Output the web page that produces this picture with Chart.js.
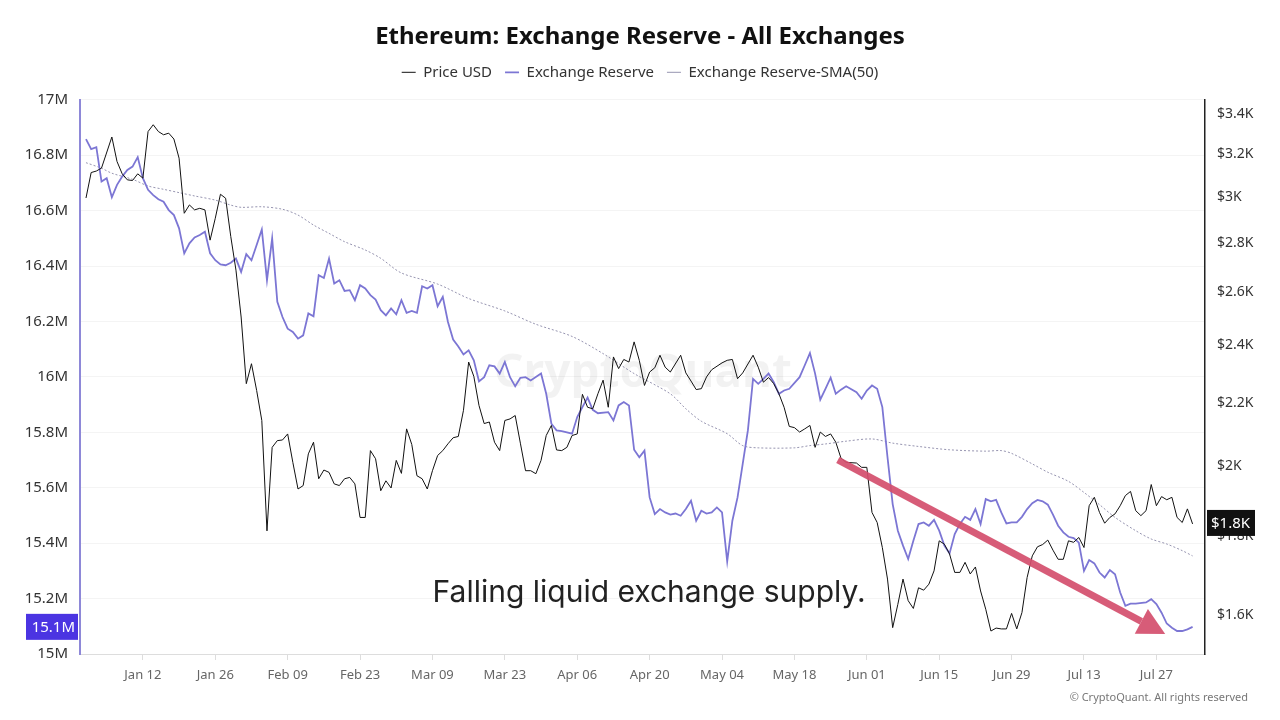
<!DOCTYPE html>
<html><head><meta charset="utf-8">
<script src="https://cdn.jsdelivr.net/npm/chart.js@4.4.1/dist/chart.umd.min.js"></script>
<style>html,body{margin:0;padding:0;background:#fff;}#wrap{width:1280px;height:720px;}</style>
</head><body><div id="wrap"><canvas id="c" width="1280" height="720"></canvas></div>
<script>
// Day offsets counted from Jan 01
const tickDays = [11,25,39,53,67,81,95,109,123,137,151,165,179,193,207];
const tickLabels = ['Jan 12','Jan 26','Feb 09','Feb 23','Mar 09','Mar 23','Apr 06','Apr 20','May 04','May 18','Jun 01','Jun 15','Jun 29','Jul 13','Jul 27'];
const reserveTicks = [15,15.2,15.4,15.6,15.8,16,16.2,16.4,16.6,16.8,17];
const priceTicks = [1600,1800,2000,2200,2400,2600,2800,3000,3200,3400];

const priceDays = [0,1,2,3,5,6,7,8,9,10,11,12,13,14,15,16,17,18,19,20,21,22,23,24,25,26,27,28,29,30,31,32,33,34,35,36,37,38,39,40,41,42,43,44,45,46,47,48,49,50,51,52,53,54,55,56,57,58,59,60,61,62,63,64,65,66,67,68,69,70,71,72,73,74,75,76,77,78,79,80,81,82,83,84,85,86,87,88,89,90,91,92,93,94,95,96,97,98,99,100,101,102,103,104,105,106,107,108,109,110,111,112,113,115,116,117,118,119,120,121,123,124,125,126,127,129,130,131,132,133,134,135,136,137,138,139,140,141,142,143,144,145,146,147,149,150,151,152,153,154,155,156,157,158,159,160,161,162,163,164,165,166,167,168,169,170,171,172,173,174,175,176,177,178,179,180,181,182,183,184,185,186,187,188,189,190,191,192,193,194,195,196,197,198,199,200,201,202,203,204,205,206,207,208,209,210,211,212,213,214];
const priceUSD = [2995,3112,3119,3133,3283,3164,3106,3078,3075,3106,3086,3310,3344,3310,3294,3302,3273,3180,2927,2964,2942,2949,2942,2811,2905,3012,2994,2826,2687,2504,2265,2334,2242,2143,1815,2058,2079,2081,2100,2012,1933,1943,2038,2074,1963,1989,1982,1948,1943,1963,1967,1948,1852,1852,2048,2023,1928,1957,1936,2018,1979,2116,2067,1972,1963,1933,1987,2033,2048,2069,2088,2092,2176,2340,2290,2192,2133,2138,2074,2048,2143,2148,2159,2071,1987,1987,1978,2018,2095,2127,2050,2048,2058,2095,2100,2229,2186,2181,2231,2277,2186,2358,2317,2349,2340,2412,2346,2259,2305,2320,2364,2322,2305,2364,2302,2274,2245,2248,2288,2313,2337,2346,2349,2282,2302,2364,2322,2270,2286,2265,2231,2186,2124,2120,2106,2116,2127,2058,2106,2092,2100,2074,2025,2012,2010,1997,1997,1866,1838,1770,1688,1569,1625,1688,1634,1615,1666,1660,1675,1709,1788,1779,1753,1705,1705,1731,1701,1719,1658,1613,1561,1568,1566,1566,1603,1566,1605,1692,1748,1772,1778,1790,1763,1739,1739,1788,1784,1797,1770,1885,1909,1866,1836,1852,1862,1885,1914,1926,1871,1857,1871,1946,1885,1911,1902,1909,1852,1838,1876,1834];

const reserveDays = [0,1,2,3,4,5,6,7,8,9,10,11,12,13,14,15,16,17,18,19,20,21,22,23,24,25,26,27,28,29,30,31,32,33,34,35,36,37,38,39,40,41,42,43,44,45,46,47,48,49,50,51,52,53,54,55,56,57,58,59,60,61,62,63,64,65,66,67,68,69,70,71,72,73,74,75,76,77,78,79,80,81,82,83,84,85,86,88,89,90,91,92,93,94,95,96,97,98,99,101,102,103,104,105,106,107,108,109,110,111,112,113,114,115,116,117,118,119,120,121,122,123,124,125,126,127,128,129,130,131,132,133,134,135,136,138,139,140,141,142,143,144,145,146,147,149,150,151,152,153,154,155,156,157,158,159,160,161,162,163,164,165,166,167,168,169,170,171,172,173,174,175,176,177,178,179,180,181,182,183,184,185,186,187,188,189,190,191,192,193,194,195,196,197,198,199,200,201,202,203,205,206,207,208,209,210,211,212,213,214];
const exchangeReserveM = [16.858,16.822,16.829,16.705,16.717,16.648,16.693,16.723,16.747,16.759,16.793,16.717,16.675,16.656,16.641,16.632,16.602,16.584,16.536,16.446,16.482,16.503,16.512,16.524,16.446,16.421,16.406,16.403,16.412,16.427,16.379,16.443,16.421,16.476,16.532,16.349,16.500,16.271,16.216,16.174,16.162,16.138,16.150,16.229,16.219,16.367,16.357,16.427,16.337,16.349,16.310,16.313,16.277,16.331,16.319,16.295,16.279,16.241,16.222,16.247,16.226,16.277,16.231,16.238,16.231,16.327,16.319,16.331,16.255,16.289,16.198,16.135,16.110,16.081,16.096,16.060,15.984,15.999,16.042,16.038,16.012,16.054,15.999,15.966,15.997,15.999,15.987,16.012,15.939,15.831,15.807,15.804,15.800,15.795,15.855,15.891,15.925,15.881,15.869,15.873,15.843,15.897,15.909,15.897,15.737,15.710,15.734,15.565,15.505,15.523,15.511,15.503,15.507,15.499,15.523,15.553,15.481,15.517,15.507,15.511,15.529,15.511,15.334,15.481,15.565,15.686,15.807,15.993,15.975,15.993,16.012,15.981,15.939,15.951,15.957,15.999,16.042,16.086,16.012,15.918,15.957,15.997,15.939,15.954,15.966,15.945,15.921,15.951,15.969,15.957,15.891,15.710,15.541,15.445,15.391,15.343,15.409,15.469,15.475,15.463,15.484,15.445,15.391,15.363,15.433,15.469,15.495,15.484,15.523,15.469,15.559,15.551,15.556,15.511,15.471,15.475,15.475,15.495,15.523,15.544,15.556,15.551,15.539,15.503,15.463,15.439,15.423,15.418,15.402,15.300,15.339,15.327,15.294,15.276,15.303,15.288,15.222,15.174,15.182,15.182,15.186,15.198,15.180,15.149,15.110,15.095,15.083,15.083,15.089,15.098];

const smaDays = [0,3,5,9,12,15,18,21,25,28,30,34,38,41,44,47,50,54,57,61,68,74,81,87,94,100,106,113,116,119,124,127,130,137,140,143,147,152,156,161,167,174,177,179,183,186,190,193,196,199,203,206,209,212,214];
const reserveSMA50M = [16.773,16.753,16.735,16.713,16.689,16.677,16.665,16.653,16.638,16.620,16.612,16.614,16.605,16.584,16.548,16.518,16.488,16.458,16.428,16.375,16.335,16.283,16.238,16.190,16.146,16.084,16.012,15.939,15.885,15.840,15.795,15.752,15.744,15.744,15.752,15.758,15.768,15.776,15.761,15.749,15.737,15.732,15.734,15.724,15.686,15.656,15.623,15.583,15.539,15.493,15.445,15.415,15.397,15.373,15.354];

const seriesNames = ['Price USD','Exchange Reserve','Exchange Reserve-SMA(50)'];
const chartTitle = 'Ethereum: Exchange Reserve - All Exchanges';
const noteText = 'Falling liquid exchange supply.';
const noteAt = {day: 108.9, value: 15.22};
const arrowFrom = {day: 145.4, value: 15.70};
const arrowTo = {day: 208.7, value: 15.072};

const zip = (xs, ys) => xs.map((x, i) => ({x, y: ys[i]}));
const fmtM = v => Number(v.toFixed(1)) + 'M';
const fmtK = v => '$' + Number((v/1000).toFixed(1)) + 'K';

Chart.defaults.font.family = "'Noto Sans', 'Open Sans', sans-serif";

const extras = {
  id: 'extras',
  beforeInit(chart) {
    const orig = chart.legend.fit;
    chart.legend.fit = function () { orig.call(this); this.height += 10; };
  },
  beforeDatasetsDraw(chart) {
    const {ctx} = chart;
    ctx.save();
    ctx.font = "bold 46px 'Noto Sans'";
    ctx.fillStyle = 'rgba(0,0,0,0.05)';
    ctx.textAlign = 'center'; ctx.textBaseline = 'middle';
    ctx.fillText('CryptoQuant', 643, 374);
    ctx.restore();
  },
  afterDraw(chart) {
    const {ctx, scales} = chart;
    const x = scales.x, y = scales.y, y1 = scales.y1;
    ctx.save();
    // arrow
    const x0 = x.getPixelForValue(arrowFrom.day), y0 = y.getPixelForValue(arrowFrom.value);
    const x1 = x.getPixelForValue(arrowTo.day), y1p = y.getPixelForValue(arrowTo.value);
    const ang = Math.atan2(y1p - y0, x1 - x0);
    const headLen = 27, headW = 14;
    const bx = x1 - headLen * Math.cos(ang), by = y1p - headLen * Math.sin(ang);
    ctx.strokeStyle = 'rgba(212,78,108,0.92)';
    ctx.fillStyle = 'rgba(212,78,108,0.92)';
    ctx.lineWidth = 7;
    ctx.beginPath(); ctx.moveTo(x0, y0); ctx.lineTo(bx, by); ctx.stroke();
    ctx.beginPath();
    ctx.moveTo(x1, y1p);
    ctx.lineTo(bx + headW * Math.sin(ang), by - headW * Math.cos(ang));
    ctx.lineTo(bx - headW * Math.sin(ang), by + headW * Math.cos(ang));
    ctx.closePath(); ctx.fill();
    // note
    ctx.font = "30px Inter";
    ctx.fillStyle = '#222';
    ctx.textAlign = 'center'; ctx.textBaseline = 'middle';
    ctx.fillText(noteText, x.getPixelForValue(noteAt.day), y.getPixelForValue(noteAt.value));
    // last value badges
    const lastR = exchangeReserveM[exchangeReserveM.length - 1];
    const lastP = priceUSD[priceUSD.length - 1];
    const ry = y.getPixelForValue(lastR);
    ctx.fillStyle = '#4b34e2';
    ctx.fillRect(26, ry - 13, 52, 26);
    ctx.fillStyle = '#fff';
    ctx.font = "15px 'Noto Sans'";
    ctx.textAlign = 'right';
    ctx.fillText(fmtM(lastR), 75, ry + 1);
    const py = y1.getPixelForValue(lastP);
    ctx.fillStyle = '#111';
    ctx.fillRect(1207, py - 14, 48, 26);
    ctx.fillStyle = '#fff';
    ctx.textAlign = 'left';
    ctx.fillText(fmtK(lastP), 1211, py);
    // footer
    ctx.font = "11px 'Noto Sans'";
    ctx.fillStyle = '#777';
    ctx.textAlign = 'right';
    ctx.fillText('\u00A9 CryptoQuant. All rights reserved', 1248, 698);
    ctx.restore();
  }
};

new Chart(document.getElementById('c'), {
  type: 'line',
  data: {
    datasets: [
      {label: seriesNames[0], data: zip(priceDays, priceUSD), yAxisID: 'y1', borderColor: '#111', borderWidth: 1, pointRadius: 0, tension: 0},
      {label: seriesNames[1], data: zip(reserveDays, exchangeReserveM), yAxisID: 'y', borderColor: '#7c76d4', borderWidth: 1.8, pointRadius: 0, tension: 0},
      {label: seriesNames[2], data: zip(smaDays, reserveSMA50M), yAxisID: 'y', borderColor: 'rgba(115,112,150,0.75)', borderWidth: 1, borderDash: [2, 2], pointRadius: 0, tension: 0.3}
    ]
  },
  options: {
    responsive: false,
    animation: false,
    devicePixelRatio: 1,
    layout: {padding: {left: 0, right: 0, top: 0, bottom: 0}},
    plugins: {
      title: {display: true, text: chartTitle, color: '#111', font: {size: 24, weight: 'bold'}, padding: {top: 23, bottom: 0}},
      legend: {position: 'top', labels: {color: '#333', font: {size: 15}, usePointStyle: true, pointStyle: 'line', pointStyleWidth: 14, padding: 13}},
      tooltip: {enabled: false}
    },
    scales: {
      x: {
        type: 'linear', min: -1.16, max: 216.4,
        afterBuildTicks: s => { s.ticks = tickDays.map(v => ({value: v})); },
        afterFit: s => { s.height = 66; },
        ticks: {autoSkip: false, maxRotation: 0, color: '#666', font: {size: 13}, padding: 7,
          callback: v => tickLabels[tickDays.indexOf(v)]},
        grid: {drawOnChartArea: false, tickLength: 6, color: '#ddd'},
        border: {color: '#ddd'}
      },
      y: {
        position: 'left', min: 15, max: 17,
        afterBuildTicks: s => { s.ticks = reserveTicks.map(v => ({value: v})); },
        afterFit: s => { s.width = 80; },
        ticks: {color: '#333', font: {size: 15}, padding: 12, callback: v => fmtM(v)},
        grid: {color: '#f4f4f4', drawTicks: false},
        border: {color: '#8e88d8', width: 2}
      },
      y1: {
        type: 'logarithmic', position: 'right', min: 1508, max: 3472,
        afterBuildTicks: s => { s.ticks = priceTicks.map(v => ({value: v})); },
        afterFit: s => { s.width = 75; },
        ticks: {color: '#333', font: {size: 14}, padding: 12, callback: v => fmtK(v)},
        grid: {drawOnChartArea: false, drawTicks: false},
        border: {color: '#222', width: 1.5}
      }
    }
  },
  plugins: [extras]
});
</script></body></html>
